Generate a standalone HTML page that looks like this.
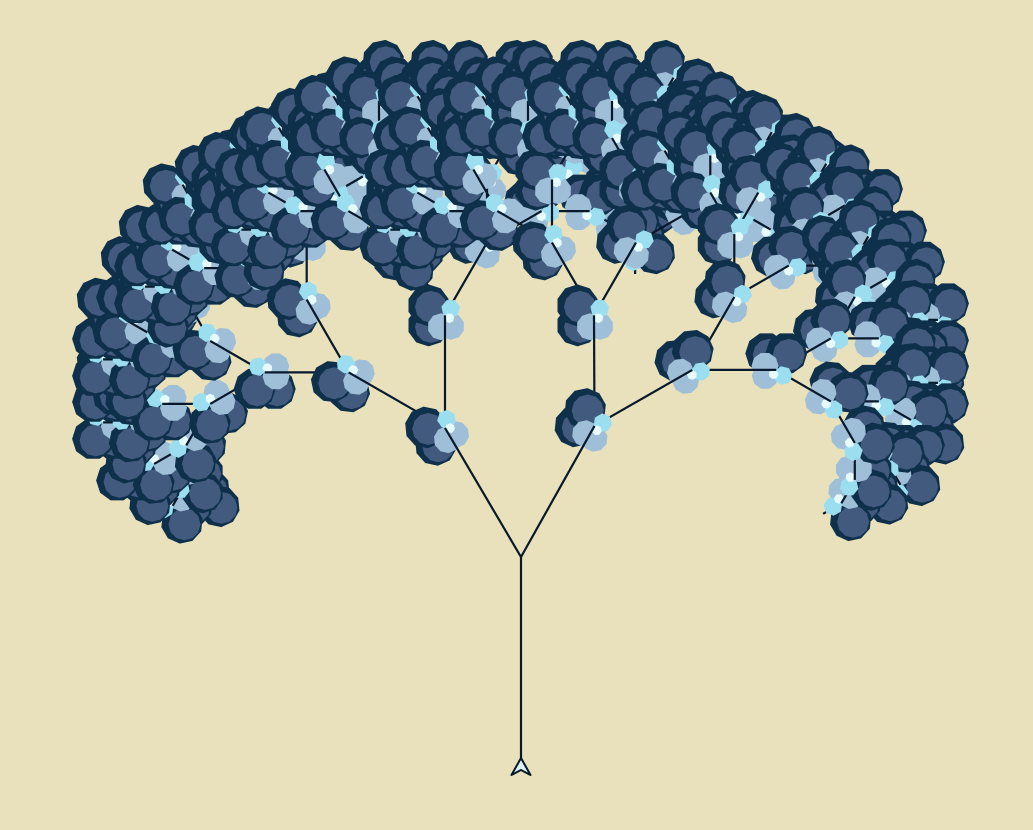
<!DOCTYPE html>
<html lang="en">
<head>
<meta charset="utf-8">
<title>Fractal tree</title>
<style>
html,body{margin:0;padding:0;background:#e9e1bc;}
svg{display:block;}
</style>
</head>
<body>
<svg id="tree" xmlns="http://www.w3.org/2000/svg" width="1033" height="830" viewBox="0 0 1033 830">
<rect x="0" y="0" width="1033" height="830" fill="#e9e1bc"/>
</svg>
<script>
const branchLengths = [210,152,110,84,63,48,37,27,21];
const branchAngle = 30;
const rootPosition = [521,767];
const pathNudges = {L:[0,2.5],R:[-2.5,0.5],LL:[-1,-0.5],LR:[0,-2.5],RL:[-0.5,-0.5],RR:[2.5,-1]};
const svg = document.getElementById('tree');
const NS = 'http://www.w3.org/2000/svg';
function pos(x,y,h,f,r){
  const a = h*Math.PI/180;
  const dx = Math.cos(a), dy = -Math.sin(a);
  return [x + dx*f - dy*r, y + dy*f + dx*r];
}
function blob(parent,cx,cy,rad,fill,h,sides,name){
  const p = document.createElementNS(NS,'polygon');
  const pts = [];
  for(let i=0;i<sides;i++){
    const t = (i/sides*360 + h)*Math.PI/180;
    pts.push((cx+Math.cos(t)*rad).toFixed(1)+','+(cy+Math.sin(t)*rad).toFixed(1));
  }
  p.setAttribute('points',pts.join(' '));
  p.setAttribute('fill',fill);
  
  
  parent.appendChild(p);
}
function darkPetal(g,x,y,h,f,r){
  const c = pos(x,y,h,f,r);
  blob(g,c[0],c[1],21,'#0e304b',h,10,'petal-outline');
  blob(g,c[0]+2.5,c[1]+1.5,16,'#425a7e',h,12,'petal-dark');
}
function flower(x,y,h){
  const g = document.createElementNS(NS,'g');
  
  
  svg.appendChild(g);
  darkPetal(g,x,y,h,-10,-16.5);
  darkPetal(g,x,y,h,10,-16.5);
  let c = pos(x,y,h,-11.3,-4);
  blob(g,c[0],c[1],13.5,'#9fbed8',h,10,'petal-light');
  c = pos(x,y,h,-11,6);
  blob(g,c[0],c[1],13.5,'#9fbed8',h,10,'petal-light');
  c = pos(x,y,h,6.7,5.7);
  blob(g,c[0],c[1],9.5,'#9bdeef',h,7,'flower-cyan');
  c = pos(x,y,h,-2.7,4.3);
  blob(g,c[0],c[1],5,'#e6fbfd',h,7,'flower-center');
}
function line(x1,y1,x2,y2){
  const l = document.createElementNS(NS,'line');
  l.setAttribute('x1',x1.toFixed(1));
  l.setAttribute('y1',y1.toFixed(1));
  l.setAttribute('x2',x2.toFixed(1));
  l.setAttribute('y2',y2.toFixed(1));
  l.setAttribute('stroke','#07192b');
  l.setAttribute('stroke-width','2.2');
  
  
  svg.appendChild(l);
}
function grow(x,y,h,level,path){
  const e = pos(x,y,h,branchLengths[level],0);
  const n = pathNudges[path];
  if(n){ e[0]+=n[0]; e[1]+=n[1]; }
  if(level < branchLengths.length-1){
    grow(e[0],e[1],h+branchAngle,level+1,path+'L');
    grow(e[0],e[1],h-branchAngle,level+1,path+'R');
    if(level>0) flower(e[0],e[1],h);
  }
  line(e[0],e[1],x,y);
}
grow(rootPosition[0],rootPosition[1],90,0,'');
const t = document.createElementNS(NS,'polygon');
t.setAttribute('points','521,758 530.5,775 521,770 511.5,775');
t.setAttribute('fill','#e0f3fa');
t.setAttribute('stroke','#07192b');
t.setAttribute('stroke-width','2');
t.setAttribute('stroke-linejoin','round');


svg.appendChild(t);
</script>
</body>
</html>
